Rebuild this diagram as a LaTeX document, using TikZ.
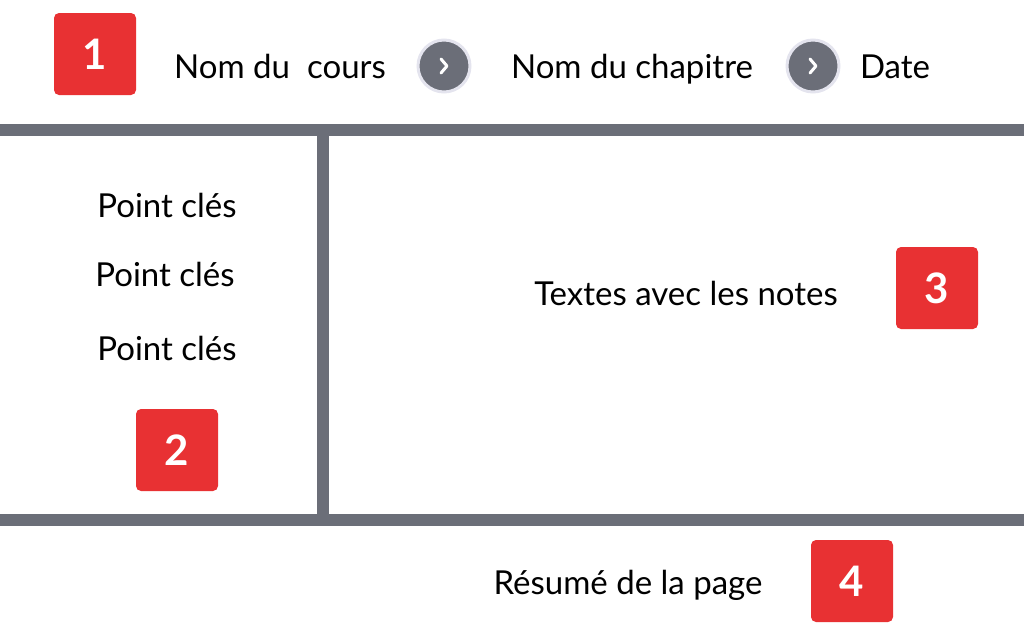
\documentclass[tikz,border=0pt]{standalone}
\usepackage{fontspec}
\setmainfont{Lato}
\usepackage{xcolor}
\usepackage{tikz}
\usetikzlibrary{positioning,calc}
\definecolor{bargray}{HTML}{6B6E78}
\definecolor{ringgray}{HTML}{E4E4EE}
\definecolor{boxred}{HTML}{E83133}

\begin{document}
\begin{tikzpicture}[x=1pt,y=-1pt,
    numbox/.style={fill=boxred, rounded corners=5pt, minimum size=82pt, inner sep=0pt, text=white, font=\fontsize{42}{42}\selectfont\bfseries},
    txt/.style={anchor=base, inner sep=0pt, font=\fontsize{33}{33}\selectfont},
    sepdot/.style={circle, fill=bargray, draw=ringgray, line width=3pt, minimum size=52pt, inner sep=0pt},
    bar/.style={bargray, line width=12pt}]
    \useasboundingbox (0,0) rectangle (1024,632);

    % header line
    \node[numbox] (box1) at (95,54) {1};
    \node[txt] (cours) at (280,78) {Nom du\ \ cours};
    \node[sepdot] (sep1) at (444,66) {};
    \node[txt] (chapitre) at (632,78) {Nom du chapitre};
    \node[sepdot] (sep2) at (813,66) {};
    \node[txt] (date) at (895,78) {Date};
    \foreach \s in {sep1,sep2}
        \draw[white, line width=3pt, line cap=round, line join=round] ($(\s)+(-3,-7)$) -- ++(6,7) -- ++(-6,7);

    % frame
    \draw[bar] (0,130) -- (1024,130);
    \draw[bar] (0,520) -- (1024,520);
    \draw[bar] (323,130) -- (323,520);

    % left column
    \node[txt] (cle1) at (167,217) {Point clés};
    \node[txt] (cle2) at (165,286) {Point clés};
    \node[txt] (cle3) at (167,360) {Point clés};
    \node[numbox] (box2) at (177,450) {2};

    % notes
    \node[txt] (notes) at (686,305) {Textes avec les notes};
    \node[numbox] (box3) at (937,288) {3};

    % summary
    \node[txt] (resume) at (628,594) {Résumé de la page};
    \node[numbox] (box4) at (852,581) {4};
\end{tikzpicture}
\end{document}
